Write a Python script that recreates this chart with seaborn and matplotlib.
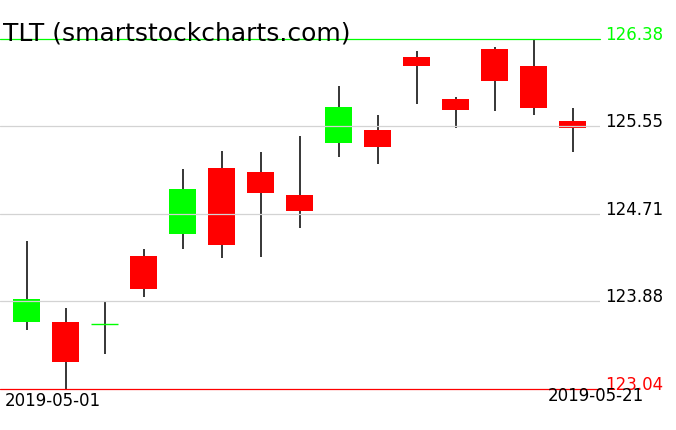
import numpy as np
import pandas as pd
import matplotlib
matplotlib.use("Agg")
import matplotlib.pyplot as plt
import matplotlib.transforms as mtransforms
import seaborn as sns

# daily candles
dates = ["2019-05-01", "2019-05-02", "2019-05-03", "2019-05-06", "2019-05-07",
         "2019-05-08", "2019-05-09", "2019-05-10", "2019-05-13", "2019-05-14",
         "2019-05-15", "2019-05-16", "2019-05-17", "2019-05-20", "2019-05-21"]
opens = [123.68, 123.68, 123.66, 124.31, 124.52, 125.15, 125.11, 124.89, 125.39, 125.51,
         126.21, 125.81, 126.28, 126.12, 125.60]
closes = [123.90, 123.30, 123.66, 123.99, 124.95, 124.41, 124.91, 124.74, 125.73, 125.35,
          126.12, 125.70, 125.98, 125.72, 125.53]
highs = [124.45, 123.81, 123.87, 124.38, 125.14, 125.31, 125.30, 125.45, 125.93, 125.65,
         126.27, 125.83, 126.30, 126.38, 125.72]
lows = [123.60, 123.04, 123.37, 123.92, 124.38, 124.29, 124.30, 124.58, 125.25, 125.19,
        125.76, 125.53, 125.69, 125.65, 125.30]
grid_levels = [123.88, 124.71, 125.55]
price_max = 126.38
price_min = 123.04
title = "TLT (smartstockcharts.com)"

df = pd.DataFrame({"date": dates, "open": opens, "close": closes, "high": highs, "low": lows})
df["idx"] = np.arange(len(df))

sns.set_style("white")
plt.rcParams["font.family"] = ["DejaVu Sans"]
plt.rcParams["text.color"] = "black"

W, H = 676, 431
fig = plt.figure(figsize=(W / 100, H / 100), dpi=100)
# axes: x 0..600 px, y 40..390 px
ax = fig.add_axes([0, (H - 390) / H, 600 / W, 350 / H])
ax.set_xlim(-26.7 / 39, (600 - 26.7) / 39)
ax.set_ylim(price_min, price_max)
ax.axis("off")

green = "#00ff00"
red = "#ff0000"
body_w = 27 / 39

# wicks
ax.vlines(df["idx"], df["low"], df["high"], color="black", lw=1.1, zorder=2)

# bodies
for _, r in df.iterrows():
    if r["close"] == r["open"]:
        ax.hlines(r["close"], r["idx"] - body_w / 2, r["idx"] + body_w / 2,
                  color=green, lw=1.0, zorder=3)
        continue
    c = green if r["close"] > r["open"] else red
    lo = min(r["open"], r["close"])
    ax.bar(r["idx"], abs(r["close"] - r["open"]), bottom=lo, width=body_w,
           color=c, edgecolor="none", zorder=3)

# grid lines on top
for g in grid_levels:
    ax.axhline(g, color="#d3d3d3", lw=0.9, zorder=4)
ax.axhline(price_max, color=green, lw=0.9, zorder=4, clip_on=False)
ax.axhline(price_min, color=red, lw=0.9, zorder=4, clip_on=False)

# price labels on the right
trans = mtransforms.blended_transform_factory(ax.transAxes, ax.transData)
for v, col in [(price_max, green)] + [(g, "black") for g in grid_levels] + [(price_min, red)]:
    ax.text(1 + 5 / 600, v, f"{v:.2f}", color=col, fontsize=12, transform=trans,
            ha="left", va="baseline", clip_on=False)

# title and dates
fig.text(3 / W, 1 - 40 / H, title, fontsize=18, ha="left", va="baseline")
fig.text(5 / W, 1 - 406 / H, dates[0], fontsize=12, ha="left", va="baseline")
fig.text(644 / W, 1 - 401 / H, dates[-1], fontsize=12, ha="right", va="baseline")

fig.savefig("out.png", dpi=100, facecolor="white")
